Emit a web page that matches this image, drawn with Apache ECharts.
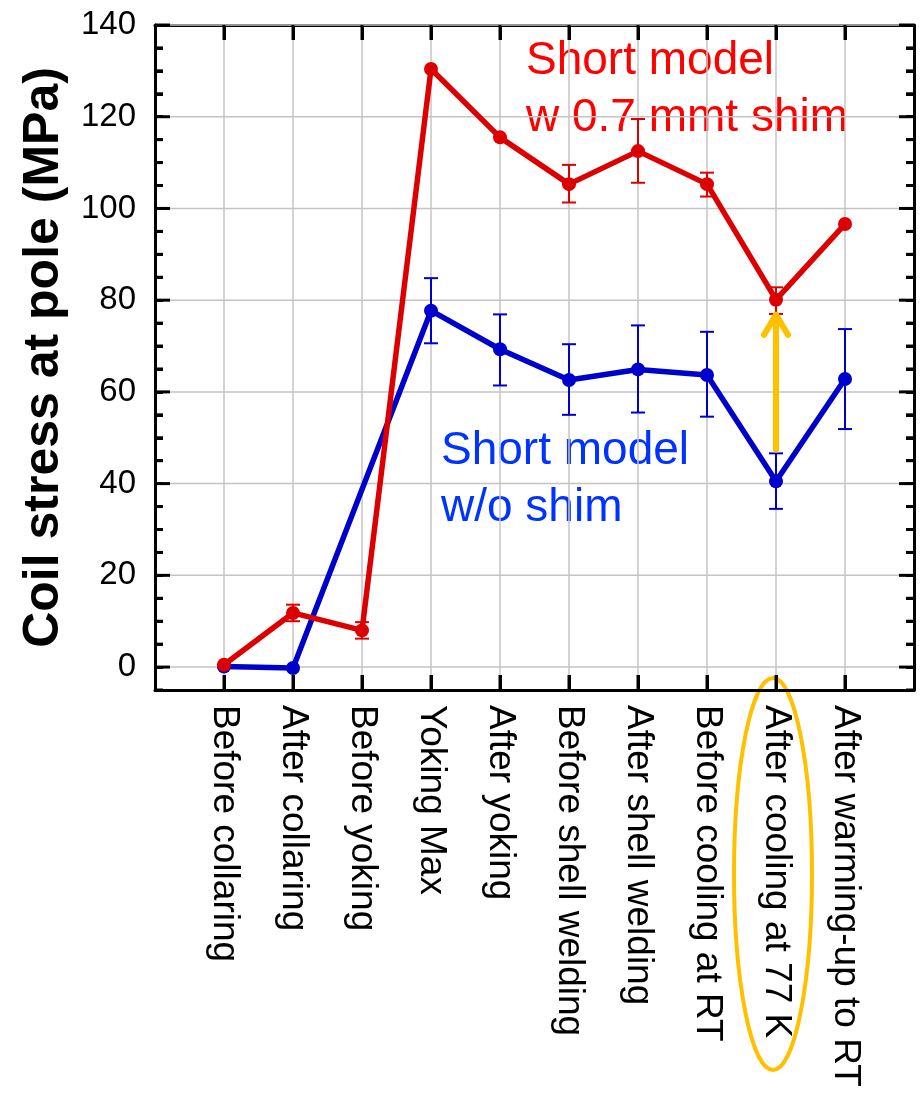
<!DOCTYPE html>
<html>
<head>
<meta charset="utf-8">
<script src="https://cdn.jsdelivr.net/npm/echarts@6/dist/echarts.min.js"></script>
<style>html,body{margin:0;padding:0;background:#fff}.c{width:922px;height:1095px}</style>
</head>
<body>
<div id="main" class="c"></div>
<script>
const categories = ['Before collaring','After collaring','Before yoking','Yoking Max','After yoking','Before shell welding','After shell welding','Before cooling at RT','After cooling at 77 K','After warming-up to RT'];
const redValues   = [0.5, 11.8, 8.0, 130.4, 115.5, 105.3, 112.5, 105.3, 80.1, 96.6];
const redErrLow   = [null, 10.0, 6.2, null, null, 101.3, 105.6, 102.6, 77.0, null];
const redErrHigh  = [null, 13.6, 9.8, null, null, 109.5, 119.5, 107.8, 82.8, null];
const blueValues  = [0.1, -0.2, null, 77.7, 69.3, 62.6, 64.9, 63.7, 40.5, 62.8];
const blueErrLow  = [null, null, null, 70.6, 61.4, 55.0, 55.5, 54.6, 34.5, 51.9];
const blueErrHigh = [null, null, null, 84.8, 76.9, 70.4, 74.5, 73.1, 46.6, 73.7];
const yTickValues = [0, 20, 40, 60, 80, 100, 120, 140];
const yMinorTicks = [-5, 5, 10, 15, 25, 30, 35, 45, 50, 55, 65, 70, 75, 85, 90, 95, 105, 110, 115, 125, 130, 135];
const arrowFrom = [9, 47.4];
const arrowTo = [9, 76.8];

const RED = '#dd0000', BLUE = '#0000cc', GOLD = '#ffc000', GRIDC = '#c4c4c4';
const FONT = 'Arial, "Liberation Sans", sans-serif';
const X_MIN = 0, X_MAX = categories.length + 1, Y_MIN = -5, Y_MAX = 140;

function pts(vals){ const out=[]; vals.forEach((v,i)=>{ if(v!==null) out.push([i+1,v]); }); return out; }
function errs(lo,hi){ const out=[]; lo.forEach((v,i)=>{ if(v!==null) out.push([i+1,v,hi[i]]); }); return out; }
function errRender(color){
  return function(params, api){
    const x=api.value(0), p1=api.coord([x,api.value(1)]), p2=api.coord([x,api.value(2)]);
    const hw=7, st={stroke:color,lineWidth:2};
    return {type:'group',children:[
      {type:'line',shape:{x1:p1[0],y1:p1[1],x2:p2[0],y2:p2[1]},style:st},
      {type:'line',shape:{x1:p1[0]-hw,y1:p1[1],x2:p1[0]+hw,y2:p1[1]},style:st},
      {type:'line',shape:{x1:p2[0]-hw,y1:p2[1],x2:p2[0]+hw,y2:p2[1]},style:st}
    ]};
  };
}
function axLine(show){ return {show:show,onZero:false,lineStyle:{color:'#000',width:3}}; }
function ticks(len){ return {show:true,inside:true,length:len,lineStyle:{color:'#000',width:3}}; }

const chart = echarts.init(document.getElementById('main'));
const option = {
  animation:false,
  grid:{left:155,right:8,top:25,bottom:405},
  xAxis:[
    {type:'value',position:'bottom',min:X_MIN,max:X_MAX,interval:1,
     axisLine:axLine(true), axisTick:ticks(15),
     axisLabel:{show:true,rotate:-90,margin:15,fontSize:37,fontFamily:FONT,color:'#000',
       formatter:v=>(v>=1&&v<=categories.length)?categories[v-1]:''},
     splitLine:{show:true,lineStyle:{color:GRIDC,width:1.5}}},
    {type:'value',position:'top',min:X_MIN,max:X_MAX,interval:1,
     axisLine:axLine(true), axisTick:ticks(15),
     axisLabel:{show:false},splitLine:{show:false}}
  ],
  yAxis:[
    {type:'value',position:'left',min:Y_MIN,max:Y_MAX,interval:5,
     name:'Coil stress at pole (MPa)',nameLocation:'middle',nameRotate:90,nameGap:86,
     nameTextStyle:{fontSize:50,fontWeight:'bold',fontFamily:FONT,color:'#000'},
     axisLine:axLine(true), axisTick:ticks(8),
     axisLabel:{show:true,margin:19,fontSize:33,fontFamily:FONT,color:'#000',
       formatter:v=>yTickValues.indexOf(v)>=0?String(v):''},
     splitLine:{show:false}},
    {type:'value',position:'right',min:Y_MIN,max:Y_MAX,interval:5,
     axisLine:axLine(true), axisTick:ticks(8),
     axisLabel:{show:false},splitLine:{show:false}}
  ],
  series:[
    {type:'custom',silent:true,z:1,data:yTickValues.map(v=>[X_MIN,v]),encode:{x:0,y:1},
     renderItem:function(params,api){
       const v=api.value(1), a=api.coord([X_MIN,v]), b=api.coord([X_MAX,v]);
       return {type:'line',shape:{x1:a[0],y1:a[1],x2:b[0],y2:b[1]},style:{stroke:GRIDC,lineWidth:1.5}};
     }},
    {type:'custom',renderItem:errRender(BLUE),data:errs(blueErrLow,blueErrHigh),encode:{x:0,y:[1,2]},z:3},
    {type:'line',data:pts(blueValues),symbol:'circle',symbolSize:14,clip:false,
     lineStyle:{color:BLUE,width:5.5},itemStyle:{color:BLUE},z:4},
    {type:'custom',renderItem:errRender(RED),data:errs(redErrLow,redErrHigh),encode:{x:0,y:[1,2]},z:5},
    {type:'line',data:pts(redValues),symbol:'circle',symbolSize:14,clip:false,
     lineStyle:{color:RED,width:5.5},itemStyle:{color:RED},z:6},
    {type:'custom',data:[[arrowFrom[0],arrowFrom[1],arrowTo[1]]],encode:{x:0,y:[1,2]},z:7,
     renderItem:function(params,api){
       const a=api.coord([api.value(0),api.value(1)]), b=api.coord([api.value(0),api.value(2)]);
       const st={stroke:GOLD,lineWidth:6,lineCap:'round',lineJoin:'round',fill:null};
       return {type:'group',children:[
         {type:'line',shape:{x1:a[0],y1:a[1],x2:b[0],y2:b[1]},style:st},
         {type:'polyline',shape:{points:[[b[0]-12,b[1]+20],[b[0],b[1]],[b[0]+12,b[1]+20]]},style:st}
       ]};
     }},
    {type:'custom',silent:true,z:20,data:[[X_MIN,Y_MIN]],encode:{x:0,y:1},
     renderItem:function(params,api){
       const tk={stroke:'#000',lineWidth:3};
       const kids=[];
       yTickValues.forEach(v=>{
         const a=api.coord([X_MIN,v]), b=api.coord([X_MAX,v]);
         kids.push({type:'line',shape:{x1:a[0],y1:a[1],x2:a[0]+15,y2:a[1]},style:tk});
         kids.push({type:'line',shape:{x1:b[0]-15,y1:b[1],x2:b[0],y2:b[1]},style:tk});
       });
       yMinorTicks.forEach(v=>{
         const a=api.coord([X_MIN,v]), b=api.coord([X_MAX,v]);
         kids.push({type:'line',shape:{x1:a[0],y1:a[1],x2:a[0]+8,y2:a[1]},style:tk});
         kids.push({type:'line',shape:{x1:b[0]-8,y1:b[1],x2:b[0],y2:b[1]},style:tk});
       });
       categories.forEach((c,i)=>{
         const a=api.coord([i+1,Y_MIN]), b=api.coord([i+1,Y_MAX]);
         kids.push({type:'line',shape:{x1:a[0],y1:a[1],x2:a[0],y2:a[1]-15},style:tk});
         kids.push({type:'line',shape:{x1:b[0],y1:b[1],x2:b[0],y2:b[1]+15},style:tk});
       });
       return {type:'group',children:kids};
     }}
  ],
  graphic:[
    {type:'text',x:526,y:61,style:{text:'Short model',font:'46px '+FONT,fill:'#ff0000',textVerticalAlign:'middle'}},
    {type:'text',x:526,y:118,style:{text:'w 0.7 mmt shim',font:'46px '+FONT,fill:'#ff0000',textVerticalAlign:'middle'}},
    {type:'text',x:441,y:451,style:{text:'Short model',font:'46px '+FONT,fill:'#0033ff',textVerticalAlign:'middle'}},
    {type:'text',x:441,y:508,style:{text:'w/o shim',font:'46px '+FONT,fill:'#0033ff',textVerticalAlign:'middle'}},
    {type:'ellipse',shape:{cx:773,cy:874,rx:39,ry:196},style:{stroke:GOLD,lineWidth:4,fill:null}}
  ]
};
chart.setOption(option);
</script>
</body>
</html>
